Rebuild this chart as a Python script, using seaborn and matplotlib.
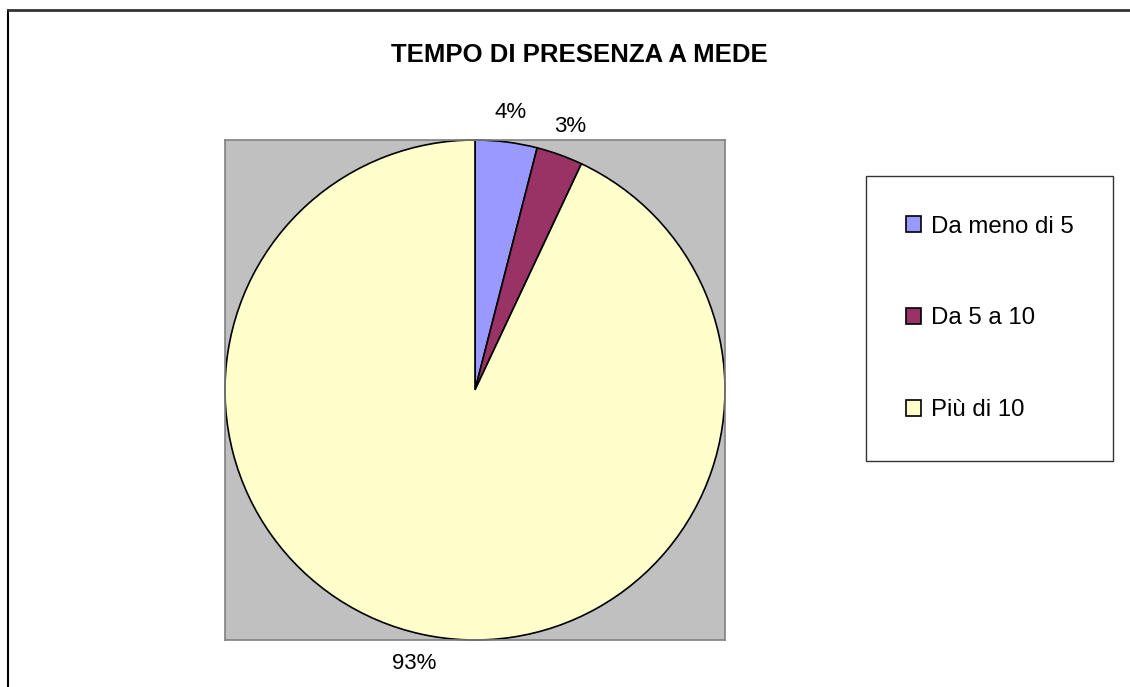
import matplotlib
matplotlib.use("Agg")
import matplotlib.pyplot as plt
import seaborn as sns
from matplotlib.lines import Line2D

sns.set_style("white")
plt.rcParams['font.family'] = ['Liberation Sans', 'DejaVu Sans']
plt.rcParams['text.color'] = 'black'

# dati
categorie = ['Da meno di 5', 'Da 5 a 10', 'Più di 10']
valori = [4, 3, 93]
colori = sns.color_palette(['#9999FF', '#993366', '#FFFFCC'])

fig = plt.figure(figsize=(11.3, 6.87), dpi=100)
ax = fig.add_axes([225/1130, 47/687, 500/1130, 500/687])

wedges, testi, pct = ax.pie(valori, colors=colori, startangle=90, counterclock=False,
                            autopct='%1.0f%%', pctdistance=1.12, radius=1,
                            wedgeprops=dict(edgecolor='black', linewidth=1.2),
                            textprops=dict(fontsize=16, color='black'), frame=True)
ax.set_xlim(-1, 1)
ax.set_ylim(-1, 1)
ax.set_facecolor('#C0C0C0')
ax.set_xticks([])
ax.set_yticks([])
for s in ax.spines.values():
    s.set_color('#808080')
    s.set_linewidth(1.2)
for t in pct:
    t.set_clip_on(False)

fig.text(579/1130, 1 - 55/687, 'TEMPO DI PRESENZA A MEDE', ha='center', va='center',
         fontsize=18.5, fontweight='bold', color='black')

leg = fig.legend(wedges, categorie, loc='center left', bbox_to_anchor=(866/1130, 368.5/687),
                 fontsize=17.3, frameon=True, fancybox=False, borderpad=1.65, labelspacing=2.9,
                 handlelength=0.64, handleheight=0.64, handletextpad=0.4, borderaxespad=0,
                 labelcolor='black')
leg.get_frame().set_edgecolor('black')
leg.get_frame().set_linewidth(1)

# bordo del grafico
fig.add_artist(Line2D([8/1130, 8/1130], [0, 1 - 10/687], color='black', lw=1.5))
fig.add_artist(Line2D([8/1130, 1], [1 - 10/687, 1 - 10/687], color='#333333', lw=2))

fig.savefig('out.png', dpi=100)
